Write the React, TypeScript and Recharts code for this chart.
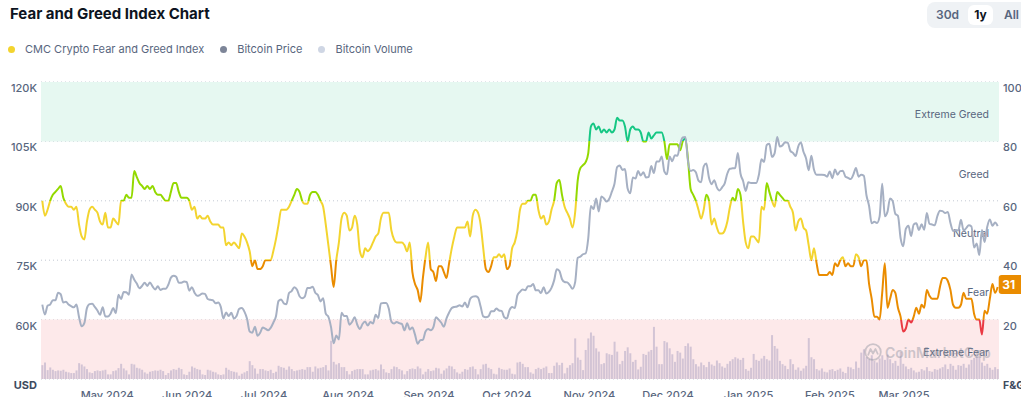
import React from 'react'
import {
  ComposedChart, Line, Bar, XAxis, YAxis, CartesianGrid, ReferenceArea, ReferenceDot,
} from 'recharts'

// Daily values, 16 Apr 2024 -> 15 Apr 2025 (365 days)
const START_UTC = Date.UTC(2024, 3, 16)

const FEAR_GREED = [
  60, 55, 57, 60, 62, 63, 64, 65, 61, 59, 58, 58, 57, 58, 52, 48, 47, 53, 57, 58,
  57, 56, 53, 52, 56, 51, 51, 54, 53, 52, 60, 60, 62, 61, 61, 70, 68, 66, 65, 64,
  65, 64, 65, 63, 62, 62, 61, 60, 60, 63, 66, 66, 63, 61, 61, 61, 60, 57, 58, 54,
  55, 54, 54, 55, 53, 52, 52, 52, 51, 51, 45, 46, 45, 46, 45, 44, 49, 48, 46, 43,
  38, 40, 37, 37, 38, 40, 40, 40, 43, 47, 52, 57, 57, 57, 58, 60, 62, 64, 63, 60,
  59, 59, 62, 63, 63, 62, 60, 58, 52, 45, 38, 31, 40, 46, 54, 56, 55, 50, 51, 55,
  52, 43, 41, 44, 43, 44, 46, 48, 49, 54, 56, 56, 56, 50, 47, 46, 46, 46, 45, 43,
  46, 36, 32, 30, 26, 34, 41, 46, 37, 36, 33, 38, 38, 36, 34, 39, 44, 48, 51, 51,
  51, 51, 53, 48, 55, 57, 56, 52, 44, 37, 36, 38, 41, 41, 42, 41, 42, 37, 38, 44,
  46, 50, 57, 59, 59, 60, 60, 62, 62, 57, 54, 55, 52, 53, 57, 60, 66, 67, 62, 58,
  56, 54, 51, 56, 67, 71, 72, 73, 76, 85, 86, 84, 85, 83, 84, 83, 84, 83, 84, 88,
  87, 87, 85, 80, 84, 85, 84, 84, 83, 80, 80, 83, 81, 82, 83, 83, 83, 80, 74, 79,
  79, 79, 79, 77, 80, 81, 74, 64, 62, 60, 57, 54, 57, 62, 60, 52, 54, 51, 49, 49,
  50, 53, 58, 61, 60, 64, 62, 53, 46, 44, 48, 48, 47, 46, 58, 57, 66, 63, 60, 58,
  63, 62, 61, 60, 60, 58, 56, 50, 53, 54, 51, 50, 45, 40, 44, 39, 35, 35, 35, 35,
  36, 35, 39, 38, 40, 41, 38, 39, 38, 38, 42, 41, 38, 40, 40, 32, 27, 21, 21, 20,
  29, 39, 24, 27, 30, 29, 24, 21, 16, 17, 20, 19, 21, 24, 22, 25, 24, 30, 28, 27,
  27, 27, 31, 34, 34, 33, 30, 25, 24, 24, 25, 29, 27, 27, 27, 22, 20, 20, 15, 23,
  22, 27, 32, 29, 31,
]

// Bitcoin price, thousands of USD
const BTC_PRICE = [
  63.8, 61.3, 63.5, 63.8, 64.9, 64.9, 66.8, 66.4, 64.3, 64.5, 63.8, 63.4, 63.1, 63.8, 60.6,
  58.3, 59.1, 62.9, 63.9, 64.0, 63.2, 62.3, 61.2, 63.1, 60.8, 60.8, 61.5, 62.9, 61.6, 66.3, 65.2,
  67.0, 66.9, 66.3, 71.4, 70.1, 69.1, 67.9, 68.5, 69.3, 68.5, 69.4, 68.4, 67.6, 68.4, 67.5,
  67.8, 67.8, 68.8, 70.6, 71.1, 70.8, 69.3, 69.3, 69.6, 69.5, 67.3, 68.2, 66.8, 66.0, 66.2,
  66.6, 66.5, 65.2, 65.0, 64.9, 64.1, 64.3, 63.2, 60.3, 61.8, 60.9, 61.7, 60.3, 60.9, 62.7,
  62.9, 62.0, 60.2, 57.0, 56.7, 58.2, 55.9, 56.7, 58.0, 57.7, 57.3, 57.9, 59.2, 60.8, 64.7, 65.1,
  64.1, 63.9, 66.7, 67.2, 68.2, 67.6, 65.9, 65.4, 65.8, 68.0, 68.0, 68.3, 66.8, 66.2, 64.6,
  65.4, 61.5, 60.7, 58.1, 54.0, 56.0, 55.0, 61.7, 60.9, 60.9, 58.7, 59.4, 60.6, 58.7, 57.6, 58.9,
  59.5, 58.5, 59.4, 59.0, 61.2, 60.4, 64.1, 64.2, 64.2, 62.8, 59.5, 59.0, 59.4, 59.1, 58.9,
  57.3, 59.1, 57.5, 58.0, 56.2, 53.9, 54.8, 54.9, 57.0, 57.6, 57.3, 58.1, 60.6, 60.0, 59.2,
  58.2, 60.3, 61.8, 62.9, 63.2, 63.3, 63.6, 63.3, 64.3, 63.1, 65.2, 65.8, 65.9, 65.6, 63.3,
  60.8, 60.6, 60.8, 62.1, 62.1, 62.8, 62.3, 62.2, 60.6, 60.3, 62.4, 63.2, 62.9, 66.1, 67.0, 67.6,
  67.4, 68.4, 68.4, 69.0, 67.4, 67.4, 66.7, 68.2, 66.6, 67.0, 68.0, 69.9, 72.7, 72.3, 70.2,
  69.5, 69.4, 68.7, 67.8, 69.4, 75.6, 75.9, 76.5, 76.7, 80.5, 88.7, 87.9, 90.6, 87.3, 91.1,
  90.6, 89.8, 90.5, 92.3, 94.3, 98.5, 98.9, 97.8, 98.0, 93.1, 91.9, 95.9, 95.6, 97.5, 96.4,
  97.2, 95.9, 96.0, 98.8, 97.0, 99.9, 99.9, 101.2, 97.4, 96.7, 101.2, 100.0, 101.5, 101.4, 104.3, 106.0,
  106.1, 100.0, 97.5, 97.8, 97.2, 95.1, 94.7, 98.7, 99.4, 95.8, 94.2, 95.2, 93.4, 92.6, 93.4,
  94.4, 96.9, 98.1, 98.2, 98.3, 102.1, 96.9, 95.0, 92.5, 94.7, 94.5, 94.5, 94.5, 96.5, 100.5, 99.8,
  104.1, 104.4, 101.1, 102.0, 106.1, 103.7, 104.0, 104.8, 104.7, 102.6, 102.1, 101.3, 103.7, 104.7, 102.4,
  100.7, 97.7, 101.4, 97.9, 96.6, 96.6, 96.6, 96.5, 96.1, 97.4, 95.7, 97.9, 96.6, 97.5,
  97.6, 96.1, 95.8, 95.5, 96.6, 98.3, 96.1, 96.6, 96.3, 91.4, 88.7, 84.3, 84.7, 84.4,
  86.0, 94.3, 86.1, 87.2, 90.6, 89.9, 86.7, 86.2, 80.6, 78.5, 82.9, 83.7, 81.1, 84.0, 84.3, 82.6,
  84.1, 82.7, 86.9, 84.2, 84.0, 83.8, 86.1, 87.5, 87.4, 86.9, 87.2, 84.4, 82.4, 82.6, 82.5,
  85.2, 82.5, 83.1, 83.8, 83.5, 78.2, 79.2, 76.3, 82.6, 79.6, 83.4, 85.3, 83.7, 84.5, 83.6,
]

// Bitcoin 24h volume, billions of USD
const BTC_VOLUME = [
  42, 50, 27, 35, 28, 24, 26, 25, 28, 22, 20, 18, 18, 26, 48,
  44, 38, 30, 20, 18, 24, 26, 24, 26, 28, 14, 14, 24, 26, 33, 46, 32, 26, 14, 46, 44, 34, 32, 28, 20, 16, 22, 24, 26, 25, 28,
  24, 12, 18, 26, 30, 28, 34, 30, 14, 12, 22, 38, 34, 30, 28, 14, 12, 28, 26, 22, 20, 14, 12, 14, 34, 28, 24, 22, 20, 10,
  16, 20, 24, 54, 42, 32, 16, 30, 30, 26, 24, 28, 18, 22, 40, 36, 34, 28, 38, 30, 24, 26, 28, 30, 28, 36, 36, 22, 38, 32, 34,
  36, 42, 26, 116, 52, 44, 48, 36, 36, 24, 14, 24, 28, 30, 30, 30, 14, 14, 26, 28, 30, 26, 44, 30, 20, 18, 30, 38, 36, 30, 26,
  14, 24, 30, 32, 30, 38, 32, 14, 22, 30, 24, 26, 34, 32, 16, 26, 32, 40, 38, 30, 20, 16, 22, 30, 28, 36, 38, 30, 14, 30,
  44, 46, 34, 30, 16, 14, 34, 30, 28, 28, 32, 16, 14, 50, 52, 46, 36, 36, 20, 16, 30, 34, 30, 34, 38, 18, 18, 40, 50, 42, 49,
  17, 34, 42, 48, 123, 65, 58, 27, 88, 123, 141, 131, 93, 83, 45, 48, 78, 75, 73, 113, 83, 45, 55, 85, 96, 78, 52, 58, 29, 37,
  76, 73, 83, 88, 158, 98, 45, 45, 115, 111, 93, 75, 52, 85, 80, 62, 100, 108, 98, 60, 45, 38, 50, 42, 36, 52, 44, 40, 56, 48, 38,
  34, 46, 54, 60, 66, 62, 58, 64, 30, 25, 34, 76, 58, 55, 62, 70, 60, 56, 133, 100, 92, 55, 45, 40, 30, 60, 45, 28, 35, 25, 32,
  40, 124, 66, 60, 30, 26, 32, 22, 20, 28, 30, 24, 28, 32, 22, 18, 37, 35, 30, 53, 34, 80, 90, 66, 60, 72, 55, 50,
  62, 72, 58, 74, 60, 48, 55, 40, 82, 46, 38, 30, 34, 26, 20, 22, 30, 26, 36, 24, 22, 30, 28, 32, 36, 44, 30, 46, 40, 28, 42,
  40, 46, 34, 44, 58, 64, 72, 66, 50, 40, 46, 34, 28, 36, 30,
]

const DATES = FEAR_GREED.map((_, i) => new Date(START_UTC + i * 86400000).toISOString().slice(0, 10))

const MONTH_TICKS = [
  '2024-05-01', '2024-06-01', '2024-07-01', '2024-08-01', '2024-09-01', '2024-10-01',
  '2024-11-01', '2024-12-01', '2025-01-01', '2025-02-01', '2025-03-01',
]
const MONTH_LABELS = [
  'May 2024', 'Jun 2024', 'Jul 2024', 'Aug 2024', 'Sep 2024', 'Oct 2024',
  'Nov 2024', 'Dec 2024', 'Jan 2025', 'Feb 2025', 'Mar 2025',
]
const USD_TICKS = [45, 60, 75, 90, 105, 120]
const FG_TICKS = [0, 20, 40, 60, 80, 100]

// sentiment bands on the F&G scale
const ZONES = [
  { from: 80, to: 100, label: 'Extreme Greed', fill: '#E6F8F1' },
  { from: 60, to: 80, label: 'Greed', fill: 'none' },
  { from: 40, to: 60, label: 'Neutral', fill: 'none' },
  { from: 20, to: 40, label: 'Fear', fill: 'none' },
  { from: 0, to: 20, label: 'Extreme Fear', fill: '#FDE9EA' },
]

// line colour per band, top to bottom
const FG_COLORS = ['#16C784', '#93D900', '#F3D42F', '#EA8C00', '#EA3943']
const FG_BREAKS = [80, 60, 40, 20]

const LEGEND = [
  { label: 'CMC Crypto Fear and Greed Index', color: '#F3D42F' },
  { label: 'Bitcoin Price', color: '#7D8598' },
  { label: 'Bitcoin Volume', color: '#CFD6E4' },
]

const rows = DATES.map((date, i) => ({
  date,
  fg: FEAR_GREED[i],
  price: BTC_PRICE[i],
  volume: BTC_VOLUME[i],
}))

const GRAY = '#58667E'
const FONT = 'Inter, "Noto Sans", sans-serif'

const fgMax = Math.max(...FEAR_GREED)
const fgMin = Math.min(...FEAR_GREED)
const breakOffset = (v: number) => (fgMax - v) / (fgMax - fgMin)

const UsdTick = ({ x, y, payload }: any) => {
  const unit = payload.value === USD_TICKS[0]
  return (
    <text x={x} y={y + 6} textAnchor="end" dominantBaseline="central" fontSize={11}
      fontWeight={unit ? 700 : 500} fill={unit ? '#3E4A5E' : GRAY} fontFamily={FONT}>
      {unit ? 'USD' : `${payload.value}K`}
    </text>
  )
}

const FgTick = ({ x, y, payload }: any) => {
  const unit = payload.value === 0
  return (
    <text x={x} y={y + 6} textAnchor="start" dominantBaseline="central" fontSize={unit ? 10.5 : 11}
      fontWeight={unit ? 700 : 500} fill={unit ? '#3E4A5E' : GRAY} fontFamily={FONT}>
      {unit ? 'F&G' : payload.value}
    </text>
  )
}

const MonthTick = ({ x, y, payload }: any) => (
  <text x={x - 1} y={y + 20} textAnchor="start" fontSize={11} fontWeight={500} fill={GRAY} fontFamily={FONT}>
    {MONTH_LABELS[MONTH_TICKS.indexOf(payload.value)]}
  </text>
)

const ZoneLabel = ({ viewBox, value }: any) => {
  if (!viewBox) return null
  return (
    <text x={viewBox.x + viewBox.width - 10} y={viewBox.y + viewBox.height / 2 + 3} textAnchor="end"
      dominantBaseline="central" fontSize={10.5} fill={GRAY} fontFamily={FONT}>
      {value}
    </text>
  )
}

const LastBadge = ({ cx, cy }: any) => (
  <g>
    <rect x={cx + 1} y={cy - 12} width={26} height={19} rx={3} fill="#EA8C00" />
    <text x={cx + 11} y={cy - 2.5} textAnchor="middle" dominantBaseline="central"
      fill="#fff" fontSize={12} fontWeight={700} fontFamily={FONT}>
      {FEAR_GREED[FEAR_GREED.length - 1]}
    </text>
  </g>
)

export default function App() {
  return (
    <div style={{ position: 'absolute', left: 0, top: 0, width: 1021, height: 397, overflow: 'hidden', background: '#fff', fontFamily: FONT }}>
      {/* title */}
      <div style={{ position: 'absolute', left: 10, top: 3, fontSize: 15, fontWeight: 700, color: '#0D1421', lineHeight: '22px' }}>
        Fear and Greed Index Chart
      </div>

      {/* range switch */}
      <div style={{ position: 'absolute', left: 927, top: 2, width: 110, height: 26, borderRadius: 8, background: '#EFF2F5' }}>
        <span style={{ position: 'absolute', left: 9, top: 5, fontSize: 12, fontWeight: 600, color: GRAY }}>30d</span>
        <span style={{ position: 'absolute', left: 41, top: 3, width: 25, height: 20, borderRadius: 6, background: '#fff', textAlign: 'center', lineHeight: '20px', fontSize: 12, fontWeight: 700, color: '#0D1421' }}>1y</span>
        <span style={{ position: 'absolute', left: 77, top: 5, fontSize: 12, fontWeight: 600, color: GRAY }}>All</span>
      </div>

      {/* legend */}
      <div style={{ position: 'absolute', left: 8, top: 41, display: 'flex', alignItems: 'center', gap: 16, fontSize: 11, color: GRAY }}>
        {LEGEND.map((item) => (
          <div key={item.label} style={{ display: 'flex', alignItems: 'center' }}>
            <span style={{ width: 7, height: 7, borderRadius: '50%', background: item.color, marginRight: 10 }} />
            <span style={{ lineHeight: '16px' }}>{item.label}</span>
          </div>
        ))}
      </div>

      <div style={{ position: 'absolute', left: 0, top: 0 }}>
        <ComposedChart width={1021} height={410} data={rows} margin={{ top: 82, right: 0, bottom: 0, left: 0 }} barCategoryGap="15%">
          <defs>
            <linearGradient id="fgStroke" x1="0" y1="0" x2="0" y2="1">
              <stop offset={0} stopColor={FG_COLORS[0]} />
              {FG_BREAKS.map((b, i) => (
                <React.Fragment key={b}>
                  <stop offset={breakOffset(b)} stopColor={FG_COLORS[i]} />
                  <stop offset={breakOffset(b)} stopColor={FG_COLORS[i + 1]} />
                </React.Fragment>
              ))}
              <stop offset={1} stopColor={FG_COLORS[FG_COLORS.length - 1]} />
            </linearGradient>
          </defs>

          {ZONES.map((z) => (
            <ReferenceArea key={z.label} yAxisId="fg" y1={z.from} y2={z.to} fill={z.fill} fillOpacity={1} stroke="none"
              label={(p: any) => <ZoneLabel {...p} value={z.label} />} />
          ))}

          <CartesianGrid yAxisId="fg" vertical={false} stroke="#C3C9D3" strokeDasharray="1 3" />

          <XAxis dataKey="date" ticks={MONTH_TICKS} interval={0} axisLine={false} tickLine={false}
            tickSize={0} tickMargin={0} height={31} tick={(p: any) => <MonthTick {...p} />} />
          <YAxis yAxisId="usd" orientation="left" width={41} domain={[45, 120]} ticks={USD_TICKS} interval={0}
            axisLine={false} tickLine={false} tickSize={0} tickMargin={4} tick={(p: any) => <UsdTick {...p} />} />
          <YAxis yAxisId="fg" orientation="right" width={22} domain={[0, 100]} ticks={FG_TICKS} interval={0}
            axisLine={false} tickLine={false} tickSize={0} tickMargin={4} tick={(p: any) => <FgTick {...p} />} />
          <YAxis yAxisId="vol" hide domain={[0, 900]} />

          <Bar yAxisId="vol" dataKey="volume" fill="#D3C4D5" isAnimationActive={false} />
          <Line yAxisId="fg" dataKey="fg" type="monotone" stroke="url(#fgStroke)" strokeWidth={2}
            dot={false} activeDot={false} isAnimationActive={false} />
          <Line yAxisId="usd" dataKey="price" type="monotone" stroke="#A6B0C3" strokeWidth={2}
            dot={false} activeDot={false} isAnimationActive={false} />

          <ReferenceDot yAxisId="fg" x={DATES[DATES.length - 1]} y={FEAR_GREED[FEAR_GREED.length - 1]}
            shape={(p: any) => <LastBadge {...p} />} />
        </ComposedChart>
      </div>

      {/* watermark */}
      <div style={{ position: 'absolute', left: 864, top: 343, display: 'flex', alignItems: 'center', opacity: 0.42, pointerEvents: 'none' }}>
        <svg width={18} height={18} viewBox="0 0 18 18">
          <circle cx={9} cy={9} r={7.8} fill="none" stroke="#8A8F9C" strokeWidth={1.8} />
          <path d="M4 12.5 L6.5 6 L9 10.5 L11.5 6 L14 11.5" fill="none" stroke="#8A8F9C" strokeWidth={1.8} strokeLinejoin="round" />
        </svg>
        <span style={{ marginLeft: 3, fontSize: 14, fontWeight: 600, color: '#8A8F9C' }}>CoinMarketCap</span>
      </div>
    </div>
  )
}
